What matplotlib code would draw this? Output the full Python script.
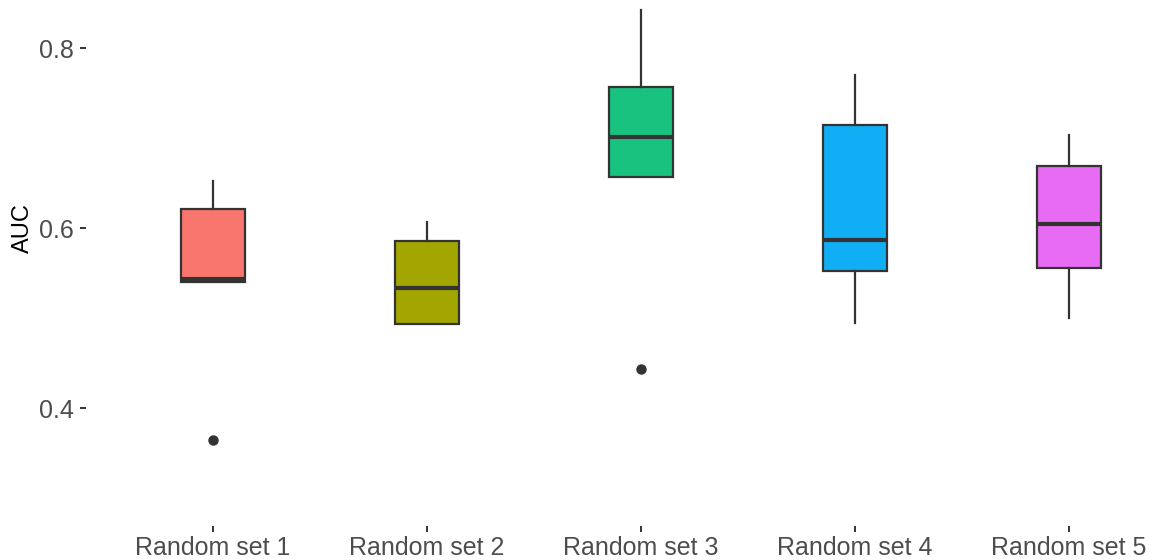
import matplotlib
matplotlib.use("Agg")
import matplotlib.pyplot as plt
import numpy as np

categories = ["Random set 1", "Random set 2", "Random set 3", "Random set 4", "Random set 5"]
whislo = [0.540, 0.493, 0.657, 0.495, 0.500]
q1 = [0.540, 0.493, 0.657, 0.553, 0.556]
med = [0.544, 0.534, 0.701, 0.587, 0.605]
q3 = [0.621, 0.586, 0.757, 0.715, 0.669]
whishi = [0.652, 0.607, 0.843, 0.770, 0.704]
outliers = [[0.365], [], [0.444], [], []]
colors = ["#F8766D", "#A3A500", "#19C27F", "#12AEF5", "#E76BF3"]
yticks = [0.4, 0.6, 0.8]

plt.rcParams['font.family'] = ['Liberation Sans', 'DejaVu Sans']

fig = plt.figure(figsize=(11.54, 5.6), dpi=100)
ax = fig.add_axes([86/1154, (560-526)/560, 1 - 86/1154, 526/560])

stats = []
for i in range(len(categories)):
    stats.append(dict(med=med[i], q1=q1[i], q3=q3[i], whislo=whislo[i],
                      whishi=whishi[i], fliers=outliers[i], label=categories[i]))

pos = np.arange(1, len(categories) + 1)
edge = "#333333"
bp = ax.bxp(stats, positions=pos, widths=0.3, patch_artist=True, showcaps=False,
            boxprops=dict(edgecolor=edge, linewidth=1.6),
            whiskerprops=dict(color=edge, linewidth=1.6),
            medianprops=dict(color=edge, linewidth=3.0, solid_capstyle='butt'),
            flierprops=dict(marker='o', markerfacecolor=edge, markeredgecolor=edge,
                            markersize=6.5, linestyle='none'))
for patch, c in zip(bp['boxes'], colors):
    patch.set_facecolor(c)

ax.set_xlim(0.4065, 5.397)
ax.set_ylim(0.269, 0.8537)
ax.set_yticks(yticks)
ax.set_yticklabels([f"{v:.1f}" for v in yticks])
ax.set_xticks(pos)
ax.set_xticklabels(categories)
for s in ax.spines.values():
    s.set_visible(False)
ax.tick_params(axis='both', colors='#333333', labelcolor='#4D4D4D', labelsize=18,
               length=4, width=1.4)
ax.tick_params(axis='y', pad=5)
ax.tick_params(axis='x', pad=3)
ax.set_ylabel("AUC", fontsize=17, color='black')
ax.yaxis.set_label_coords(-0.049, (526 - 228) / 526)
ax.patch.set_alpha(0)

fig.savefig("out.png", dpi=100, facecolor='white')
